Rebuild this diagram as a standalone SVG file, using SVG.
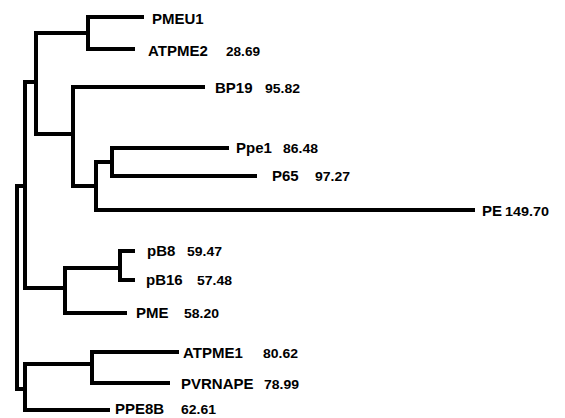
<svg xmlns="http://www.w3.org/2000/svg" width="565" height="418" viewBox="0 0 565 418">
<style>
.e{fill:none;stroke:#000;stroke-width:4;stroke-linecap:square;stroke-linejoin:miter}
.n{font-family:"Liberation Sans",Arial,sans-serif;font-weight:bold;font-size:15px;fill:#000}
.v{font-family:"Liberation Sans",Arial,sans-serif;font-weight:bold;font-size:12px;fill:#000}
</style>
<rect width="565" height="418" fill="#fff"/>
<g id="connectors">
<path class="e" d="M25,186H17V389H25"/>
<path class="e" d="M36,82H25V288H65"/>
<path class="e" d="M88,33H36V134H73"/>
<path class="e" d="M142,17H88V49H133"/>
<path class="e" d="M203,87H73V186H96"/>
<path class="e" d="M112,162H96V210H473"/>
<path class="e" d="M227,148H112V176H255"/>
<path class="e" d="M120,268H65V313H125"/>
<path class="e" d="M133,251H120V280H133"/>
<path class="e" d="M92,364H25V410H108"/>
<path class="e" d="M177,352H92V383H168"/>
</g>
<g id="PMEU1"><text class="n" x="152" y="24">PMEU1</text></g>
<g id="ATPME2"><text class="n" x="148" y="56">ATPME2</text><text class="v" x="226" y="56" textLength="34" lengthAdjust="spacingAndGlyphs">28.69</text></g>
<g id="BP19"><text class="n" x="215" y="93">BP19</text><text class="v" x="265" y="93" textLength="35" lengthAdjust="spacingAndGlyphs">95.82</text></g>
<g id="Ppe1"><text class="n" x="236" y="153">Ppe1</text><text class="v" x="283" y="153" textLength="35" lengthAdjust="spacingAndGlyphs">86.48</text></g>
<g id="P65"><text class="n" x="272" y="181">P65</text><text class="v" x="315" y="181" textLength="35" lengthAdjust="spacingAndGlyphs">97.27</text></g>
<g id="PE"><text class="n" x="482" y="216">PE</text><text class="v" x="505" y="216" textLength="44" lengthAdjust="spacingAndGlyphs">149.70</text></g>
<g id="pB8"><text class="n" x="147" y="256">pB8</text><text class="v" x="187" y="256" textLength="35" lengthAdjust="spacingAndGlyphs">59.47</text></g>
<g id="pB16"><text class="n" x="146" y="285">pB16</text><text class="v" x="197" y="285" textLength="35" lengthAdjust="spacingAndGlyphs">57.48</text></g>
<g id="PME"><text class="n" x="136" y="318">PME</text><text class="v" x="184" y="318" textLength="35" lengthAdjust="spacingAndGlyphs">58.20</text></g>
<g id="ATPME1"><text class="n" x="183" y="358">ATPME1</text><text class="v" x="263" y="358" textLength="35" lengthAdjust="spacingAndGlyphs">80.62</text></g>
<g id="PVRNAPE"><text class="n" x="181" y="389">PVRNAPE</text><text class="v" x="264" y="389" textLength="35" lengthAdjust="spacingAndGlyphs">78.99</text></g>
<g id="PPE8B"><text class="n" x="115" y="414">PPE8B</text><text class="v" x="181" y="414" textLength="35" lengthAdjust="spacingAndGlyphs">62.61</text></g>
</svg>
